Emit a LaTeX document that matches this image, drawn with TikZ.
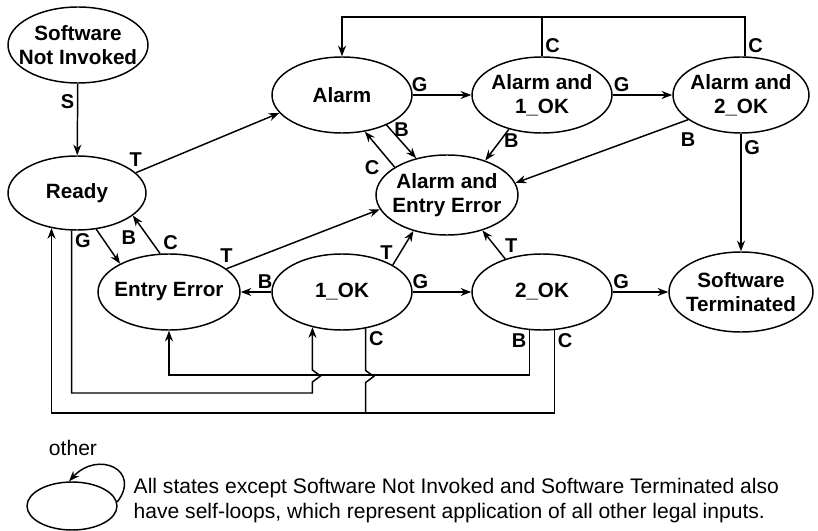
\documentclass[tikz,border=0pt]{standalone}
\usepackage{fontspec}
\setmainfont{Liberation Sans}
\usepackage{tikz}
\usetikzlibrary{shapes.geometric,arrows.meta}
\tikzset{every picture/.style={line width=1.1pt}}
\tikzset{
  statenode/.style={draw, ellipse, inner xsep=-8pt, inner ysep=-2pt,
    minimum width=105pt, minimum height=57pt, align=center,
    font=\fontsize{15.5}{18}\selectfont\bfseries},
  lbl/.style={font=\fontsize{15}{18}\selectfont\bfseries, inner sep=2pt},
  trans/.style={-{Stealth[length=8pt,width=6pt]}},
  note/.style={font=\fontsize{15.8}{18.75}\selectfont, align=left, inner sep=0pt}
}

\begin{document}
\begin{tikzpicture}[x=0.75pt,y=0.75pt,yscale=-1,xscale=1]
\useasboundingbox (0,0) rectangle (818,531);
%States
\node[statenode] (notinv) at (78,45) {Software\\Not Invoked};
\node[statenode, minimum width=103.5pt, minimum height=55.5pt] (ready) at (77,193) {Ready};
\node[statenode] (alarm) at (342,95) {Alarm};
\node[statenode] (alarmone) at (542,95) {Alarm and\\1\_OK};
\node[statenode, minimum width=102pt] (alarmtwo) at (741,95) {Alarm and\\2\_OK};
\node[statenode, minimum width=106.5pt, minimum height=60pt] (alarmerr) at (447,195) {Alarm and\\Entry Error};
\node[statenode, minimum width=106.5pt] (entryerr) at (169,292) {Entry Error};
\node[statenode] (okone) at (342,292) {1\_OK};
\node[statenode] (oktwo) at (542,292) {2\_OK};
\node[statenode, minimum width=108pt, minimum height=60pt] (swterm) at (741,292) {Software\\Terminated};
%Bus lines
\coordinate (topbus) at (0,17);
\coordinate (bbus) at (0,375);
\coordinate (gbus) at (0,393);
\coordinate (cbus) at (0,413);
%Upper transitions
\draw[trans] (notinv) -- node[lbl, pos=0.25, left]{S} (ready);
\draw[trans] (ready.19) node[lbl, above=2pt]{T} -- (alarm.196);
\draw[trans] (alarm) -- node[lbl, pos=0.12, above]{G} (alarmone);
\draw[trans] (alarmone) -- node[lbl, pos=0.15, above]{G} (alarmtwo);
\draw[trans] (alarmtwo) -- node[lbl, pos=0.12, right]{G} (swterm);
\draw (alarmone.north) node[lbl, above right]{C} -- (alarmone.north |- topbus);
\draw[trans] (alarmtwo.84) node[lbl, above right]{C} |- (alarm.north |- topbus) -- (alarm.north);
\draw[trans] (alarm.-34) -- node[lbl, pos=0.15, right]{B} (alarmerr.130);
\draw[trans] (alarmerr.152) node[lbl, left=9pt]{C} -- (alarm.-58);
\draw[trans] (alarmone.226) -- node[lbl, pos=0.35, right]{B} (alarmerr.42);
\draw[trans] (alarmtwo.205) node[lbl, below=7pt]{B} -- (alarmerr.10);
%Lower transitions
\draw[trans] (ready.-62) -- node[lbl, pos=0.25, right=12pt]{B} (entryerr.150);
\draw[trans] (entryerr.103) -- node[lbl, pos=0.3, right=6pt]{C} (ready.-22);
\draw[trans] (entryerr.22) node[lbl, above=2pt]{T} -- (alarmerr.192);
\draw[trans] (okone) -- node[lbl, pos=0.2, above]{B} (entryerr);
\draw[trans] (okone.28) -- node[lbl, pos=0.35, left=3pt]{T} (alarmerr.227);
\draw[trans] (okone) -- node[lbl, pos=0.13, above]{G} (oktwo);
\draw[trans] (oktwo.138) -- node[lbl, pos=0.45, right=5pt]{T} (alarmerr.-45);
\draw[trans] (oktwo) -- node[lbl, pos=0.15, above]{G} (swterm);
%Bottom wiring
\draw[trans] (ready.-98) node[lbl, below right]{G} |- (okone.-130 |- gbus) -- ++(0,-11) -- ++(8,-6) -- ++(-8,-6) -- (okone.-130);
\draw[trans] (oktwo.-108) node[lbl, below left]{B} |- (entryerr.south |- bbus) -- (entryerr.south);
\draw[trans] (oktwo.-72) node[lbl, below right]{C} |- (ready.-126 |- cbus) -- (ready.-126);
\draw (okone.-57) node[lbl, below right]{C} -- ++(0,42) -- ++(8,6) -- ++(-8,6) -- (okone.-57 |- cbus);
%Legend
\node[draw, ellipse, minimum width=67.5pt, minimum height=36pt] (legendstate) at (72,506) {};
\draw[trans] (legendstate.5) .. controls (142,470) and (98,450) .. (legendstate.97);
\node[note] (otherlbl) at (73,448) {other};
\node[note, anchor=west] (legendtext) at (133,501) {All states except Software Not Invoked and Software Terminated also\\have self-loops, which represent application of all other legal inputs.};
\end{tikzpicture}
\end{document}
